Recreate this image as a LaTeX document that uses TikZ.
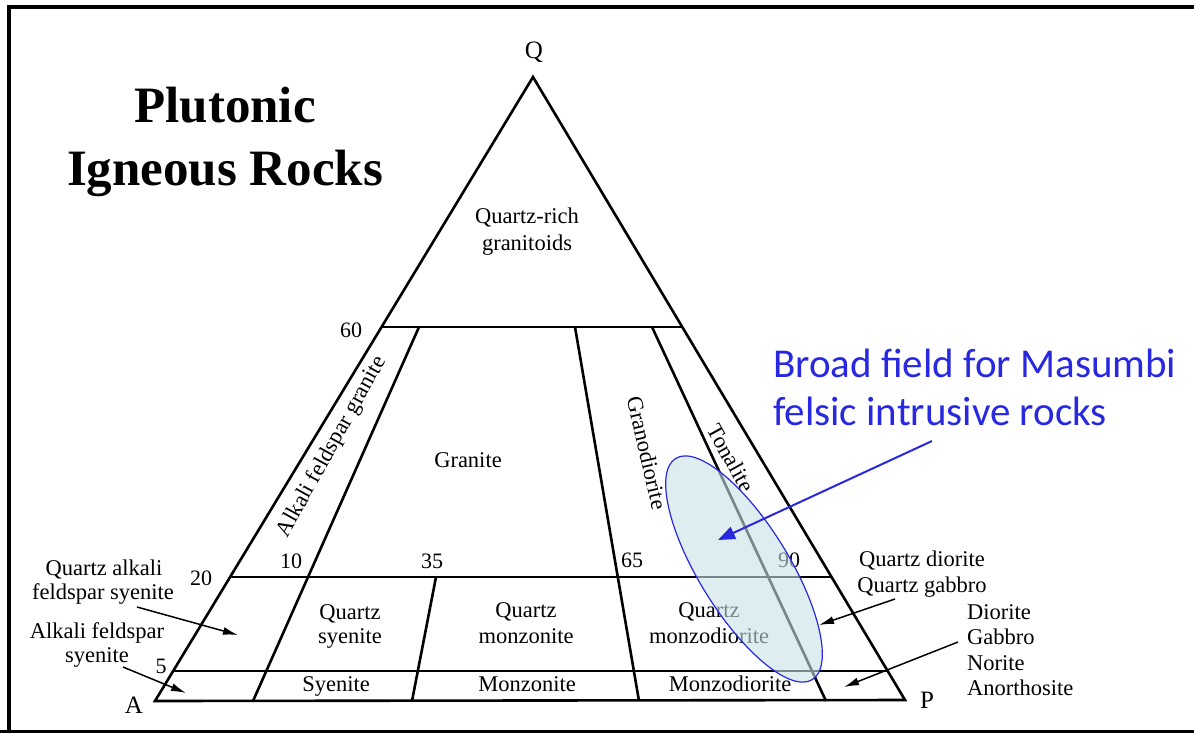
\documentclass[tikz,border=0pt]{standalone}
\usepackage{fontspec}
\setmainfont{Liberation Serif}
\newfontfamily\calfont{Carlito}
\usetikzlibrary{arrows.meta,calc}
\definecolor{bluec}{RGB}{40,40,225}
\definecolor{ellfill}{RGB}{200,227,230}
\begin{document}
\begin{tikzpicture}[x=1pt,y=-1pt,
  edge/.style={line width=2.6pt, line join=miter},
  lbl/.style={font=\fontsize{22.5}{27}\selectfont, inner sep=0pt, anchor=base},
  rlbl/.style={font=\fontsize{22.5}{27}\selectfont, inner sep=0pt},
  numl/.style={font=\fontsize{22}{26}\selectfont, inner sep=0pt, anchor=base},
  corner/.style={font=\fontsize{25}{30}\selectfont, inner sep=0pt, anchor=base},
  titl/.style={font=\fontsize{51}{60}\selectfont\bfseries, inner sep=0pt, anchor=base},
  bluet/.style={font=\fontsize{41}{48}\selectfont\calfont, text=bluec, inner sep=0pt, anchor=base west},
  ptr/.style={-{Latex[length=15pt,width=8pt]}, line width=1.5pt},
  blueptr/.style={-{Triangle[length=17pt,width=13pt]}, line width=2pt, draw=bluec, fill=bluec}]
\useasboundingbox (0,0) rectangle (1194,732);
\fill[white] (0,0) rectangle (1194,732);
% frame
\draw[line width=4pt] (9,745) -- (9,7) -- (1210,7);
\draw[line width=3pt] (0,731) -- (1210,731);

% vertices
\coordinate (A) at (155,701);
\coordinate (P) at (905,700);
\coordinate (Q) at (533,77);
% horizontal line ends
\coordinate (L60) at (381.6,327);
\coordinate (R60) at (682.3,327);
\coordinate (L20) at (230.1,577);
\coordinate (R20) at (831.6,577);
\coordinate (L5) at (172.6,671);
\coordinate (R5) at (887.7,671);
% division lines
\coordinate (d10t) at (419,327);
\coordinate (d10b) at (253,701);
\coordinate (d35t) at (436,577);
\coordinate (d35b) at (412,701);
\coordinate (d65t) at (575,327);
\coordinate (d65b) at (639,701);
\coordinate (d90t) at (652,327);
\coordinate (d90b) at (826,701);

\draw[edge] (A) -- (Q) -- (P) -- cycle;
\draw[edge] (L60) -- (R60);
\draw[edge] (L20) -- (R20);
\draw[edge] (L5) -- (R5);
\draw[edge] (d10t) -- (d10b);
\draw[edge] (d35t) -- (d35b);
\draw[edge] (d65t) -- (d65b);
\draw[edge] (d90t) -- (d90b);

% title
\node[titl] (t1) at (225,122) {Plutonic};
\node[titl] (t2) at (225,185) {Igneous Rocks};

% corners
\node[corner] (lQ) at (534,58) {Q};
\node[corner] (lA) at (134,713) {A};
\node[corner] (lP) at (927,708) {P};

% numbers
\node[numl] (n60) at (351,337) {60};
\node[numl] (n20) at (201,585) {20};
\node[numl] (n5) at (161,673) {5};
\node[numl] (n10) at (291,568) {10};
\node[numl] (n35) at (432,568) {35};
\node[numl] (n65) at (632,567) {65};
\node[numl] (n90) at (789,567) {90};

% field labels
\node[lbl] (qr1) at (527,223) {Quartz-rich};
\node[lbl] (qr2) at (527,250) {granitoids};
\node[lbl] (gr) at (468,467) {Granite};
\node[rlbl, rotate=61] (afg) at (332,447) {Alkali feldspar granite};
\node[rlbl, rotate=-77] (gd) at (647,453) {Granodiorite};
\node[rlbl, rotate=-61] (ton) at (731,458) {Tonalite};
\node[lbl] (qs1) at (350,619) {Quartz};
\node[lbl] (qs2) at (350,643) {syenite};
\node[lbl] (qm1) at (526,617) {Quartz};
\node[lbl] (qm2) at (526,643) {monzonite};
\node[lbl] (qmd1) at (709,617) {Quartz};
\node[lbl] (qmd2) at (709,643) {monzodiorite};
\node[lbl] (sy) at (336,691) {Syenite};
\node[lbl] (mz) at (527,691) {Monzonite};
\node[lbl] (mzd) at (730,691) {Monzodiorite};

% outside labels
\node[lbl] (qa1) at (104,575) {Quartz alkali};
\node[lbl] (qa2) at (103,599) {feldspar syenite};
\node[lbl] (af1) at (97,638) {Alkali feldspar};
\node[lbl] (af2) at (97,662) {syenite};
\node[lbl] (qd1) at (922,566) {Quartz diorite};
\node[lbl] (qd2) at (922,592) {Quartz gabbro};
\node[lbl, anchor=base west] (di) at (967,619) {Diorite};
\node[lbl, anchor=base west] (ga) at (967,644) {Gabbro};
\node[lbl, anchor=base west] (no) at (967,670) {Norite};
\node[lbl, anchor=base west] (an) at (967,695) {Anorthosite};

% pointer arrows
\coordinate (qaS) at (137,607); \coordinate (qaE) at (238,635);
\coordinate (afS) at (123,667); \coordinate (afE) at (186,693);
\coordinate (qdS) at (895,599); \coordinate (qdE) at (819,625);
\coordinate (dgS) at (958,642); \coordinate (dgE) at (844,687);
\draw[ptr] (qaS) -- (qaE);
\draw[ptr] (afS) -- (afE);
\draw[ptr] (qdS) -- (qdE);
\draw[ptr] (dgS) -- (dgE);

% ellipse field
\begin{scope}[shift={(744,569)}, rotate=-58.3]
  \path[fill=ellfill, fill opacity=0.6, draw=bluec, line width=1.2pt] (0,0) ellipse [x radius=130pt, y radius=45pt];
\end{scope}

% blue annotation
\node[bluet] (b1) at (773,377) {Broad field for Masumbi};
\node[bluet] (b2) at (773,425) {felsic intrusive rocks};
\coordinate (bS) at (932,441);
\coordinate (bE) at (718,540);
\draw[blueptr] (bS) -- (bE);
\end{tikzpicture}
\end{document}
